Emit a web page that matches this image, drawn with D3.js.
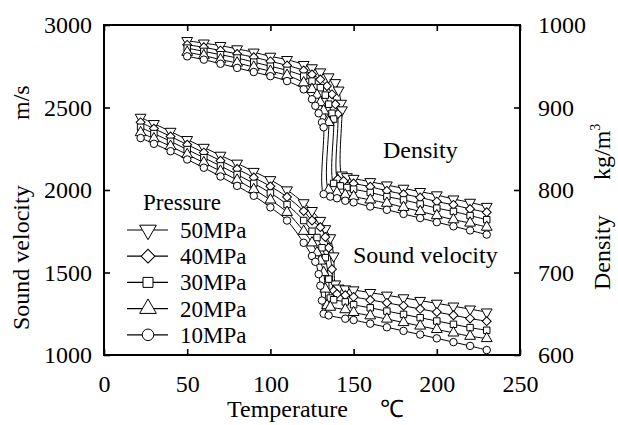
<!DOCTYPE html>
<html>
<head>
<meta charset="utf-8">
<script src="https://cdn.jsdelivr.net/npm/d3@7"></script>
<style>
body { margin: 0; background: #fff; }
text { font-family: "Liberation Serif", "Times New Roman", serif; fill: #000; }
</style>
</head>
<body>
<div class="chart"></div>
<script>
const width = 618;
const height = 425;

// series order: 50, 40, 30, 20, 10 MPa
const pressures = ["50MPa", "40MPa", "30MPa", "20MPa", "10MPa"];
const xTicks = [0, 50, 100, 150, 200, 250];
const soundTicks = [1000, 1500, 2000, 2500, 3000];
const densityTicks = [600, 700, 800, 900, 1000];

// sound velocity (m/s), liquid side
const soundTempsPre = [22, 30, 40, 50, 60, 70, 80, 90, 100, 110, 120, 125];
const soundPre = [
    [2440, 2402, 2355, 2305, 2258, 2210, 2162, 2112, 2062, 2000, 1922, 1875],
    [2410, 2372, 2325, 2275, 2227, 2178, 2128, 2076, 2022, 1958, 1872, 1815],
    [2380, 2342, 2295, 2245, 2196, 2146, 2094, 2040, 1982, 1912, 1815, 1750],
    [2348, 2311, 2265, 2215, 2166, 2114, 2060, 2003, 1940, 1865, 1750, 1680],
    [2315, 2280, 2235, 2185, 2135, 2082, 2025, 1965, 1895, 1815, 1680, 1600],
];
// sound velocity around the transition, [temperature, value]
const soundTrans = [
    [[130, 1815], [133, 1765], [136, 1710], [138, 1600], [139, 1430], [141, 1405], [145, 1400]],
    [[130, 1775], [133, 1715], [135, 1650], [137, 1520], [138, 1390], [140, 1370], [145, 1362]],
    [[128, 1712], [131, 1650], [133, 1590], [135, 1460], [136, 1345], [138, 1335], [145, 1322]],
    [[128, 1620], [130, 1570], [132, 1500], [133, 1400], [134, 1300], [136, 1290], [145, 1275]],
    [[127, 1565], [129, 1490], [130, 1420], [131, 1330], [132, 1250], [135, 1240], [145, 1220]],
];
const soundTempsPost = [150, 160, 170, 180, 190, 200, 210, 220, 230];
const soundPost = [
    [1394, 1378, 1362, 1346, 1330, 1313, 1296, 1278, 1260],
    [1352, 1334, 1316, 1298, 1279, 1260, 1241, 1221, 1205],
    [1305, 1286, 1266, 1246, 1226, 1206, 1186, 1166, 1150],
    [1258, 1238, 1218, 1197, 1176, 1155, 1134, 1114, 1100],
    [1212, 1190, 1168, 1146, 1124, 1101, 1078, 1055, 1030],
];

// density (kg/m3)
const densityTempsPre = [50, 60, 70, 80, 90, 100, 110, 120];
const densityPre = [
    [981, 978, 975, 971, 967, 962, 958, 952],
    [976, 973, 969, 965, 961, 956, 951, 945],
    [972, 968, 964, 960, 955, 950, 945, 938],
    [967, 963, 958, 954, 949, 944, 939, 930],
    [962, 958, 953, 948, 943, 938, 932, 922],
];
const densityTrans = [
    [[125, 948], [130, 943], [135, 937], [139, 930], [141, 921], [142.5, 905], [143, 897], [143, 818], [146, 816]],
    [[125, 940], [130, 934], [134, 926], [137, 916], [139, 904], [140.5, 892], [140.5, 813], [144, 811]],
    [[125, 932], [130, 924], [133, 915], [135, 904], [137, 893], [138, 886], [138, 808], [142, 805], [146, 803]],
    [[125, 922], [128, 915], [130, 906], [132, 896], [134.5, 884], [135, 882], [135, 800], [140, 797], [145, 794]],
    [[125, 910], [127, 902], [129, 893], [131, 882], [132, 876], [132, 795], [136, 792], [140, 790], [145, 787]],
];
const densityTempsPost = [150, 160, 170, 180, 190, 200, 210, 220, 230];
const densityPost = [
    [814, 810, 806, 802, 798, 794, 789, 785, 780],
    [808, 804, 799, 795, 791, 786, 782, 777, 773],
    [801, 797, 792, 788, 783, 778, 774, 769, 764],
    [792, 788, 784, 779, 774, 769, 764, 760, 755],
    [785, 780, 776, 771, 766, 761, 756, 751, 746],
];

// join the three pieces of each curve into [T, value] points
function buildSeries(tPre, pre, trans, tPost, post) {
    return pressures.map((p, i) => [
        ...tPre.map((t, j) => [t, pre[i][j]]),
        ...trans[i],
        ...tPost.map((t, j) => [t, post[i][j]]),
    ]);
}
const soundSeries = buildSeries(soundTempsPre, soundPre, soundTrans, soundTempsPost, soundPost);
const densitySeries = buildSeries(densityTempsPre, densityPre, densityTrans, densityTempsPost, densityPost);

const serif = '"Liberation Serif", "Times New Roman", serif';

const svg = d3.select(".chart").append("svg")
    .attr("width", width)
    .attr("height", height);

const x = d3.scaleLinear().domain([0, 250]).range([104, 520]);
const ySound = d3.scaleLinear().domain([1000, 3000]).range([355, 25]);
const yDensity = d3.scaleLinear().domain([600, 1000]).range([355, 25]);

// marker shapes per pressure
const shapes = [
    { type: d3.symbolTriangle, rotate: 180, k: 1.15 },
    { type: d3.symbolSquare, rotate: 45, k: 0.9 },
    { type: d3.symbolSquare, rotate: 0, k: 0.95 },
    { type: d3.symbolTriangle, rotate: 0, k: 1.15 },
    { type: d3.symbolCircle, rotate: 0, k: 1 },
];
function marker(g, i, size) {
    g.append("path")
        .attr("d", d3.symbol().type(shapes[i].type).size(size * shapes[i].k)())
        .attr("transform", `rotate(${shapes[i].rotate})`)
        .attr("fill", "#fff")
        .attr("stroke", "#000")
        .attr("stroke-width", 1);
}

function drawCurves(series, y) {
    const line = d3.line()
        .x((d) => x(d[0]))
        .y((d) => y(d[1]))
        .curve(d3.curveCatmullRom.alpha(0.5));
    series.forEach((pts) => {
        svg.append("path")
            .datum(pts)
            .attr("d", line)
            .attr("fill", "none")
            .attr("stroke", "#000")
            .attr("stroke-width", 1);
    });
    series.forEach((pts, i) => {
        svg.append("g").selectAll("g")
            .data(pts)
            .enter()
            .append("g")
            .attr("transform", (d) => `translate(${x(d[0])},${y(d[1])})`)
            .each(function () { marker(d3.select(this), i, 44); });
    });
}
drawCurves(densitySeries, yDensity);
drawCurves(soundSeries, ySound);

// axes, ticks pointing inward
function styleAxis(g) {
    g.attr("font-family", null).attr("font-size", null);
    g.select(".domain").remove();
    g.selectAll(".tick line").attr("stroke", "#000").attr("stroke-width", 1.6);
    g.selectAll("text")
        .style("font-family", serif)
        .style("font-size", "24px")
        .attr("fill", "#000");
}
const fmt = d3.format("d");
svg.append("g")
    .attr("transform", "translate(0,355)")
    .call(d3.axisBottom(x).tickValues(xTicks).tickFormat(fmt).tickSizeInner(-6).tickSizeOuter(0).tickPadding(20))
    .call(styleAxis);
svg.append("g")
    .attr("transform", "translate(0,25)")
    .call(d3.axisTop(x).tickValues(xTicks).tickSizeInner(-6).tickSizeOuter(0).tickFormat(""))
    .call(styleAxis);
svg.append("g")
    .attr("transform", "translate(104,0)")
    .call(d3.axisLeft(ySound).tickValues(soundTicks).tickFormat(fmt).tickSizeInner(-6).tickSizeOuter(0).tickPadding(12))
    .call(styleAxis);
svg.append("g")
    .attr("transform", "translate(520,0)")
    .call(d3.axisRight(yDensity).tickValues(densityTicks).tickFormat(fmt).tickSizeInner(-6).tickSizeOuter(0).tickPadding(18))
    .call(styleAxis);

svg.append("rect")
    .attr("x", 104).attr("y", 25)
    .attr("width", 416).attr("height", 330)
    .attr("fill", "none")
    .attr("stroke", "#000")
    .attr("stroke-width", 2);

// axis titles
svg.append("text").attr("x", 227).attr("y", 417).attr("font-size", 24).text("Temperature");
svg.append("text").attr("x", 380).attr("y", 417).attr("font-size", 24).text("℃");
svg.append("text").attr("transform", "translate(29,330) rotate(-90)").attr("font-size", 24).text("Sound velocity");
svg.append("text").attr("transform", "translate(29,120) rotate(-90)").attr("font-size", 24).text("m/s");
svg.append("text").attr("transform", "translate(610,290) rotate(-90)").attr("font-size", 24).text("Density");
const unit = svg.append("text").attr("transform", "translate(610,180) rotate(-90)").attr("font-size", 24);
unit.append("tspan").text("kg/m");
unit.append("tspan").attr("font-size", 14).attr("dy", -10).text("3");

// curve labels
svg.append("text").attr("x", 383).attr("y", 158).attr("font-size", 24).text("Density");
svg.append("text").attr("x", 353).attr("y", 263).attr("font-size", 24).text("Sound velocity");

// legend
svg.append("text").attr("x", 143).attr("y", 210).attr("font-size", 23).text("Pressure");
pressures.forEach((p, i) => {
    const cy = 230 + i * 26.2;
    const g = svg.append("g");
    g.append("line")
        .attr("x1", 127).attr("x2", 168)
        .attr("y1", cy).attr("y2", cy)
        .attr("stroke", "#000").attr("stroke-width", 1.2);
    const m = g.append("g").attr("transform", `translate(148,${cy})`);
    marker(m, i, 105);
    g.append("text").attr("x", 180).attr("y", cy + 8).attr("font-size", 23).text(p);
});
</script>
</body>
</html>
